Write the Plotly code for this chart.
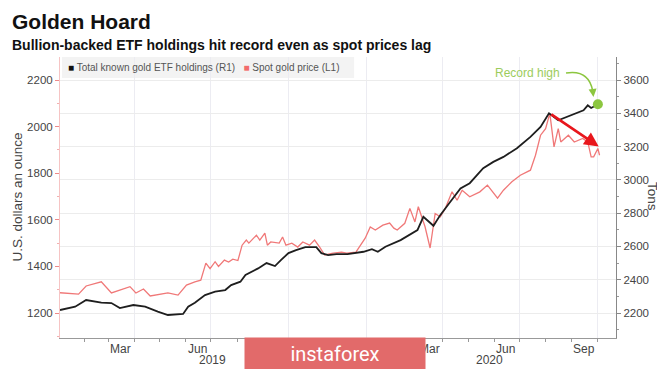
import plotly.graph_objects as go

# ---------------- data ----------------
price_dates = ["2019-01-03","2019-01-25","2019-02-03","2019-02-21","2019-03-05","2019-03-27",
               "2019-04-03","2019-04-12","2019-04-20","2019-05-11","2019-05-23","2019-06-02",
               "2019-06-12","2019-06-19","2019-06-25","2019-06-30","2019-07-06","2019-07-10",
               "2019-07-17","2019-07-22","2019-07-27","2019-08-02","2019-08-07","2019-08-12",
               "2019-08-15","2019-08-20","2019-08-24","2019-08-28","2019-09-03","2019-09-06",
               "2019-09-10","2019-09-20","2019-09-24","2019-09-28","2019-10-05","2019-10-12",
               "2019-10-18","2019-10-26","2019-11-01","2019-11-07","2019-11-13","2019-11-23",
               "2019-12-03","2019-12-09","2019-12-20","2019-12-31","2020-01-06","2020-01-12",
               "2020-01-21","2020-01-29","2020-02-03","2020-02-07","2020-02-16","2020-02-22",
               "2020-02-28","2020-03-03","2020-03-11","2020-03-17","2020-03-23","2020-03-29",
               "2020-04-04","2020-04-12","2020-04-18","2020-04-24","2020-05-03","2020-05-15",
               "2020-05-24","2020-06-05","2020-06-12","2020-06-22","2020-07-02","2020-07-14",
               "2020-07-20","2020-07-26","2020-08-01","2020-08-06","2020-08-11","2020-08-16",
               "2020-08-19","2020-08-28","2020-09-04","2020-09-14","2020-09-20","2020-09-24",
               "2020-09-27","2020-10-02","2020-10-04"]
spot_price = [1287,1281,1316,1334,1286,1313,
              1286,1303,1273,1286,1277,1320,
              1334,1341,1414,1390,1420,1400,
              1427,1419,1431,1425,1491,1513,
              1500,1521,1534,1513,1543,1491,
              1505,1500,1526,1491,1500,1483,
              1505,1491,1513,1483,1449,1457,
              1461,1457,1461,1521,1569,1556,
              1577,1586,1564,1556,1585,1649,
              1591,1656,1570,1479,1627,1613,
              1649,1720,1684,1727,1699,1720,
              1749,1693,1727,1763,1791,1813,
              1877,1963,1991,2057,1913,1991,
              1934,1963,1934,1949,1934,1870,
              1870,1906,1877]

etf_dates = ["2019-01-03","2019-01-21","2019-02-03","2019-02-21","2019-03-05","2019-03-15",
             "2019-03-31","2019-04-14","2019-04-29","2019-05-11","2019-05-29","2019-06-04",
             "2019-06-12","2019-06-24","2019-07-06","2019-07-18","2019-07-25","2019-08-05",
             "2019-08-11","2019-08-26","2019-09-05","2019-09-15","2019-09-22","2019-10-01",
             "2019-10-10","2019-10-21","2019-11-03","2019-11-09","2019-11-17","2019-11-27",
             "2019-12-10","2019-12-29","2020-01-08","2020-01-15","2020-01-24","2020-02-11",
             "2020-03-02","2020-03-09","2020-03-21","2020-03-29","2020-04-10","2020-04-22",
             "2020-05-03","2020-05-19","2020-05-31","2020-06-12","2020-06-28","2020-07-14",
             "2020-07-26","2020-08-05","2020-08-16","2020-08-23","2020-09-04","2020-09-15",
             "2020-09-20","2020-09-24","2020-09-30","2020-10-02"]
etf_tons = [2218,2238,2278,2262,2260,2230,
            2248,2238,2208,2188,2194,2238,
            2262,2308,2328,2338,2368,2388,
            2428,2468,2500,2482,2518,2560,
            2578,2596,2596,2560,2548,2554,
            2554,2568,2584,2568,2598,2638,
            2698,2778,2724,2788,2868,2948,
            2980,3070,3108,3138,3190,3258,
            3318,3400,3358,3372,3400,3418,
            3448,3432,3448,3454]

# month labels visible in the reference (Sep/Dec 2019 are hidden by the watermark)
month_label_dates = ["2019-03-16","2019-06-15","2020-03-16","2020-06-15","2020-09-15"]
month_labels = ["Mar","Jun","Mar","Jun","Sep"]
year_labels = ["2019","2020"]
year_label_pos = [0.275, 0.773]
quarter_starts = ["2019-04-01","2019-07-01","2019-10-01","2020-01-01",
                  "2020-04-01","2020-07-01","2020-10-01"]
month_starts = ["2019-02-01","2019-03-01","2019-04-01","2019-05-01","2019-06-01","2019-07-01",
                "2019-08-01","2019-09-01","2019-10-01","2019-11-01","2019-12-01","2020-01-01",
                "2020-02-01","2020-03-01","2020-04-01","2020-05-01","2020-06-01","2020-07-01",
                "2020-08-01","2020-09-01","2020-10-01"]
price_arrow_end = ("2020-10-03", 1915)

assert len(price_dates) == len(spot_price)
assert len(etf_dates) == len(etf_tons)

RED_LINE = "#f07878"
BLACK_LINE = "#1e1e1e"
GREEN = "#8cc63f"
FONT = "Liberation Sans, Arial, sans-serif"

fig = go.Figure()
fig.add_trace(go.Scatter(x=price_dates, y=spot_price, mode="lines", yaxis="y",
                         line=dict(color=RED_LINE, width=1.3), name="Spot gold price (L1)",
                         showlegend=False))
fig.add_trace(go.Scatter(x=etf_dates, y=etf_tons, mode="lines", yaxis="y2",
                         line=dict(color=BLACK_LINE, width=1.8),
                         name="Total known gold ETF holdings (R1)", showlegend=False))
# record-high marker on the last ETF point
fig.add_trace(go.Scatter(x=[etf_dates[-1]], y=[etf_tons[-1]], mode="markers", yaxis="y2",
                         marker=dict(color=GREEN, size=10), showlegend=False))

imax = spot_price.index(max(spot_price))

annotations = []
# month tick labels
for d, t in zip(month_label_dates, month_labels):
    annotations.append(dict(x=d, y=0, xref="x", yref="paper", text=t, showarrow=False,
                            xanchor="center", yanchor="top", yshift=-2,
                            font=dict(size=12, color="#444")))
for t, xp in zip(year_labels, year_label_pos):
    annotations.append(dict(x=xp, y=-0.078, xref="paper", yref="paper", text=t,
                            xanchor="center", yanchor="middle",
                            showarrow=False, font=dict(size=12, color="#444")))
# titles
annotations.append(dict(x=-0.0899, y=1.1246, xref="paper", yref="paper", xanchor="left",
                        yanchor="middle", text="<b>Golden Hoard</b>", showarrow=False,
                        font=dict(size=21, color="#111", family=FONT)))
annotations.append(dict(x=-0.0899, y=1.0427, xref="paper", yref="paper", xanchor="left",
                        yanchor="middle",
                        text="<b>Bullion-backed ETF holdings hit record even as spot prices lag</b>",
                        showarrow=False, font=dict(size=14, color="#111", family=FONT)))
# legend text
annotations.append(dict(x=0.010, y=0.962, xref="paper", yref="paper", xanchor="left",
                        yanchor="middle", showarrow=False,
                        text=("<span style='color:#111'>■</span> Total known gold ETF holdings (R1)"
                              "   <span style='color:#f26b6b'>■</span> Spot gold price (L1)"),
                        font=dict(size=10, color="#555")))
# axis titles
annotations.append(dict(x=-0.0773, y=0.50, xref="paper", yref="paper", textangle=-90,
                        xanchor="center", yanchor="middle",
                        text="U.S. dollars an ounce", showarrow=False,
                        font=dict(size=13.5, color="#444")))
annotations.append(dict(x=1.0647, y=0.502, xref="paper", yref="paper", textangle=90,
                        xanchor="center", yanchor="middle",
                        text="Tons", showarrow=False, font=dict(size=13.5, color="#444")))
# record high label + arrow head
annotations.append(dict(x=0.8417, y=0.943, xref="paper", yref="paper", text="Record high",
                        xanchor="center", yanchor="middle",
                        showarrow=False, font=dict(size=12, color="#9ccc5c")))
annotations.append(dict(x=0.9595, y=0.858, xref="paper", yref="paper", text="",
                        showarrow=True, ax=-1, ay=-9, arrowhead=2, arrowsize=1,
                        arrowwidth=1.6, arrowcolor=GREEN))
# red downward arrow from price peak
annotations.append(dict(x=price_arrow_end[0], y=price_arrow_end[1], xref="x", yref="y",
                        ax=price_dates[imax], ay=spot_price[imax], axref="x", ayref="y",
                        text="", showarrow=True, arrowhead=2, arrowsize=1.1,
                        arrowwidth=2.6, arrowcolor="#e8161c"))
# watermark (drawn last so it covers the labels)
annotations.append(dict(x=0.4955, y=-0.0587, xref="paper", yref="paper", text="instaforex",
                        xanchor="center", yanchor="middle",
                        showarrow=False, width=178, height=30, bgcolor="#e26a6a",
                        font=dict(size=20, color="white",
                                  family="Liberation Sans Narrow, Roboto, sans-serif")))

shapes = [
    # legend band
    dict(type="rect", xref="paper", yref="paper", x0=0.0036, x1=0.529, y0=0.925, y1=1.0,
         fillcolor="#f3f3f3", line=dict(width=0), layer="below"),
    # green curved arrow
    dict(type="path", xref="paper", yref="paper",
         path="M 0.9101,0.9431 Q 0.9510,0.9560 0.9580,0.8800",
         line=dict(color=GREEN, width=1.6)),
]

# The page body has an 8px default margin, so the figure is 8px smaller and the
# left/top margins are 8px smaller to keep the plot area where the reference has it.
fig.update_layout(
    width=657, height=361,
    margin=dict(l=52, r=49, t=49, b=31),
    paper_bgcolor="white", plot_bgcolor="white",
    font=dict(family=FONT, color="#444"),
    showlegend=False,
    xaxis=dict(range=["2019-01-03", "2020-10-23 12:00"], type="date",
               tickmode="array", tickvals=quarter_starts, ticktext=[""] * len(quarter_starts),
               showticklabels=False, ticks="outside", ticklen=5, tickcolor="#999",
               showgrid=True, gridcolor="#ececf2", gridwidth=1,
               showline=True, linecolor="#999", linewidth=1, zeroline=False,
               minor=dict(tickmode="array", tickvals=month_starts, ticks="outside",
                          ticklen=3, tickcolor="#999", showgrid=False)),
    yaxis=dict(range=[1092.7, 2298.7], tick0=1200, dtick=200, showgrid=False,
               ticks="outside", ticklen=4, tickcolor="#ee8a8a",
               showline=True, linecolor="#f6c4c4", linewidth=1, zeroline=False,
               tickfont=dict(size=11.5, color="#444"),
               minor=dict(dtick=100, tick0=1100, ticks="outside", ticklen=2,
                          tickcolor="#f2b0b0", showgrid=False)),
    yaxis2=dict(range=[2049.8, 3738.2], overlaying="y", side="right", tick0=2200, dtick=200,
                showgrid=True, gridcolor="#ececec", gridwidth=1,
                ticks="outside", ticklen=4, tickcolor="#888",
                showline=True, linecolor="#888", linewidth=1.2, zeroline=False,
                tickfont=dict(size=11.5, color="#444"),
                minor=dict(dtick=100, tick0=2100, ticks="outside", ticklen=2,
                           tickcolor="#999", showgrid=False)),
    annotations=annotations,
    shapes=shapes,
)

fig.write_html("out.html")
